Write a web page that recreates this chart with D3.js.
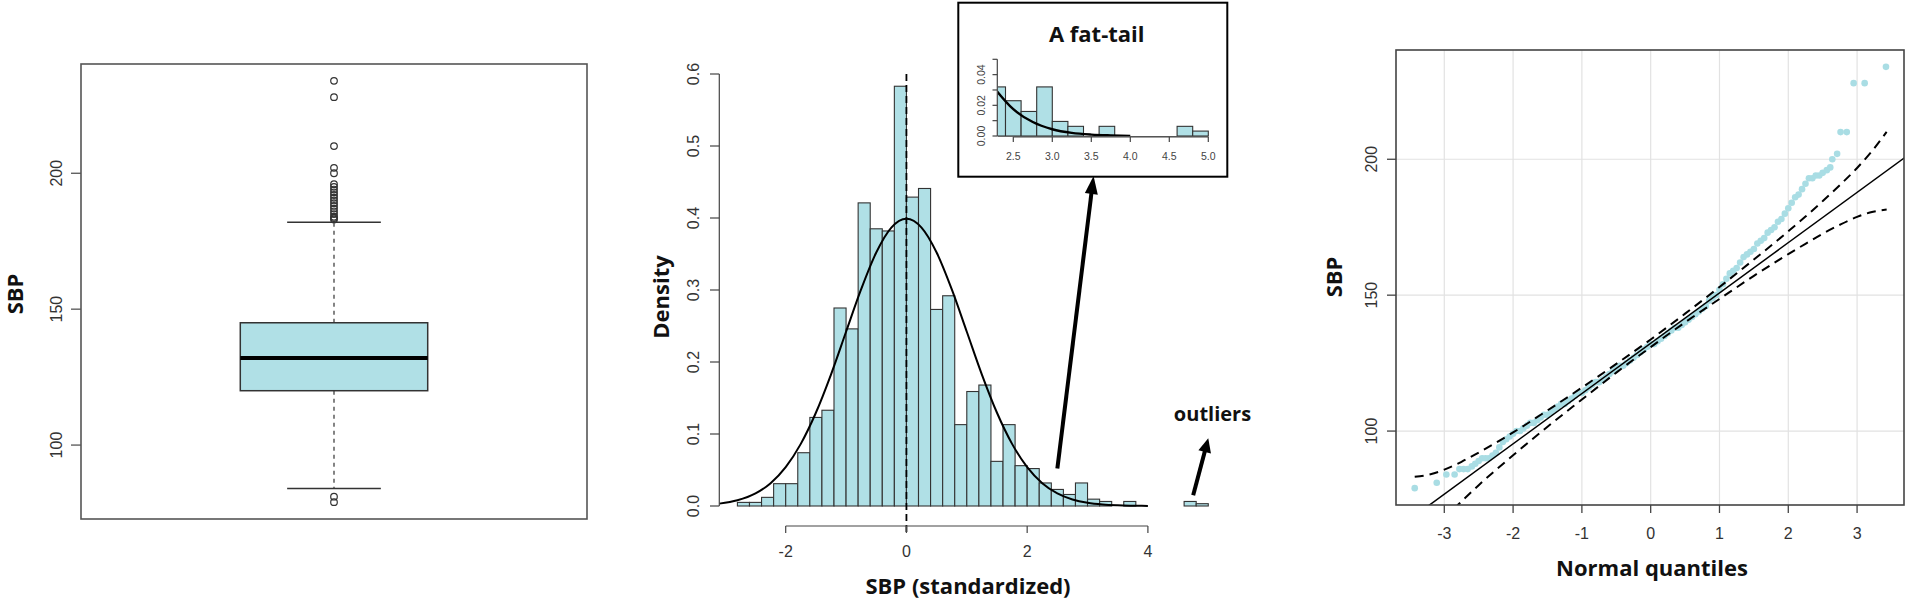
<!DOCTYPE html>
<html><head><meta charset="utf-8">
<script src="https://cdn.jsdelivr.net/npm/d3@7"></script>
<style>body{margin:0;background:#fff}</style>
</head><body>
<svg id="c" width="1907" height="600"></svg>
<script>
// ---------- data ----------
// Panel 1: boxplot of SBP
const boxYTicks = [100, 150, 200];
const boxWhiskerLow = 84, boxQ1 = 120, boxMedian = 132, boxQ3 = 145, boxWhiskerHigh = 182;
const boxOutliers = [79, 81, 183, 183.5, 184, 185, 186, 187, 188, 189, 190, 191, 192, 193, 194, 195, 196, 200, 202, 210, 228, 234];

// Panel 2: histogram of standardized SBP
const histBreaks = [-2.8,-2.6,-2.4,-2.2,-2.0,-1.8,-1.6,-1.4,-1.2,-1.0,-0.8,-0.6,-0.4,-0.2,0,0.2,0.4,0.6,0.8,1.0,1.2,1.4,1.6,1.8,2.0,2.2,2.4,2.6,2.8,3.0,3.2,3.4,3.6,3.8,4.0,4.2,4.4,4.6,4.8,5.0];
const histDensity = [0.005,0.005,0.012,0.031,0.031,0.074,0.123,0.133,0.275,0.246,0.421,0.385,0.382,0.583,0.429,0.441,0.273,0.292,0.113,0.159,0.168,0.062,0.113,0.056,0.052,0.032,0.023,0.016,0.032,0.0095,0.0063,0,0.0063,0,0,0,0,0.0063,0.0032];
const histXTicks = [-2, 0, 2, 4];
const histYTicks = [0, 0.1, 0.2, 0.3, 0.4, 0.5, 0.6];
const curveX = [-3.1,-2.8,-2.5,-2.25,-2,-1.75,-1.5,-1.25,-1,-0.75,-0.5,-0.25,0,0.25,0.5,0.75,1,1.25,1.5,1.75,2,2.25,2.5,2.75,3,3.25,3.5,3.75,4];
const curveY = [0.0033,0.0079,0.0175,0.0317,0.054,0.0863,0.1295,0.1826,0.242,0.3011,0.3521,0.3867,0.3989,0.3867,0.3521,0.3011,0.242,0.1826,0.1295,0.0863,0.054,0.0317,0.0175,0.0091,0.0044,0.002,0.0009,0.0004,0.0001];
const insetXTicks = [2.5, 3.0, 3.5, 4.0, 4.5, 5.0];
const insetYTicks = [0, 0.01, 0.02, 0.03, 0.04, 0.05];
const insetYLabels = [0, 0.02, 0.04];

// Panel 3: normal QQ plot
const qqTheoretical = [-3.43,-3.11,-2.97,-2.85,-2.78,-2.72,-2.66,
 -2.60,-2.55,-2.50,-2.45,-2.40,-2.35,-2.30,-2.25,-2.20,-2.15,-2.10,-2.05,-2.00,-1.95,-1.90,-1.85,-1.80,-1.75,-1.70,-1.65,-1.60,-1.55,-1.50,-1.45,-1.40,-1.35,-1.30,-1.25,-1.20,-1.15,-1.10,-1.05,-1.00,
 -0.95,-0.90,-0.85,-0.80,-0.75,-0.70,-0.65,-0.60,-0.55,-0.50,-0.45,-0.40,-0.35,-0.30,-0.25,-0.20,-0.15,-0.10,-0.05,0.00,
 0.05,0.10,0.15,0.20,0.25,0.30,0.35,0.40,0.45,0.50,0.55,0.60,0.65,0.70,0.75,0.80,0.85,0.90,0.95,1.00,
 1.05,1.10,1.15,1.20,1.25,1.30,1.35,1.40,1.45,1.50,1.55,1.60,1.65,1.70,1.75,1.80,1.85,1.90,1.95,2.00,
 2.05,2.10,2.15,2.20,2.25,2.30,2.35,2.40,2.45,2.50,
 2.56,2.61,2.64,2.71,2.76,2.85,2.95,3.11,3.42];
const qqSample = [79,81,84,84,86,86,86,
 87,88,89,90,90,90,91,92,94,96,97,98,99,100,100,101,102,103,103,104,105,106,106,107,108,109,110,110,111,112,113,114,114,
 115,116,117,118,118,119,120,121,122,123,124,124,125,126,127,128,129,130,131,132,
 132,133,134,135,136,137,138,138,139,140,141,142,143,144,145,146,148,149,150,152,
 154,156,158,159,160,162,164,165,166,167,169,170,171,173,174,175,177,178,180,182,
 184,186,187,189,191,193,193,194,194,195,
 196,197,200,202,210,210,228,228,234];
const qqLineQ = [-3.75, 3.75];
const qqLineV = [62.9, 201.7];
const bandQ = [-3.43,-3.2,-3.0,-2.75,-2.5,-2.25,-2.0,-1.5,-1.0,-0.5,0,0.5,1.0,1.5,2.0,2.25,2.5,2.75,3.0,3.2,3.43];
const bandUpper = [83.2,84.1,85.8,88.7,92.1,95.7,99.5,107.6,116.0,124.7,133.7,143.2,153.0,163.1,173.5,178.9,184.6,190.5,196.8,202.5,210.1];
const bandLower = [54.6,62.1,67.8,74.1,80.1,85.7,91.1,101.6,111.6,121.5,130.9,140.0,148.6,157.1,165.1,168.9,172.6,175.9,178.8,180.5,181.5];
const qqXTicks = [-3, -2, -1, 0, 1, 2, 3];
const qqYTicks = [100, 150, 200];

// ---------- drawing ----------
const svg = d3.select('#c');
svg.append('rect').attr('width', 1907).attr('height', 600).attr('fill', '#fff');
const FILL = '#b0e0e6';
const PT = '#a9dde4';
const tickFont = "'Liberation Sans', Arial, sans-serif";
const boldFont = "'Open Sans', sans-serif";
const defs = svg.append('defs');

function rotText(g, x, y, txt, size, weight, fill, family) {
  return g.append('text').attr('transform', `translate(${x},${y}) rotate(-90)`)
    .attr('text-anchor', 'middle').attr('dominant-baseline', 'central')
    .attr('font-family', family).attr('font-size', size).attr('font-weight', weight)
    .attr('fill', fill).text(txt);
}
function hText(g, x, y, txt, size, weight, fill, family, baseline) {
  return g.append('text').attr('x', x).attr('y', y).attr('text-anchor', 'middle')
    .attr('dominant-baseline', baseline || 'central')
    .attr('font-family', family).attr('font-size', size).attr('font-weight', weight)
    .attr('fill', fill).text(txt);
}
function arrow(g, x1, y1, x2, y2, lw, hl, hw) {
  const dx = x2 - x1, dy = y2 - y1, L = Math.hypot(dx, dy);
  const ux = dx / L, uy = dy / L, px = -uy, py = ux;
  const bx = x2 - ux * hl, by = y2 - uy * hl;
  g.append('line').attr('x1', x1).attr('y1', y1).attr('x2', bx + ux * 2).attr('y2', by + uy * 2)
    .attr('stroke', '#000').attr('stroke-width', lw);
  g.append('path').attr('d', `M${x2},${y2}L${bx + px * hw / 2},${by + py * hw / 2}L${bx - px * hw / 2},${by - py * hw / 2}Z`)
    .attr('fill', '#000');
}

// ===== Panel 1: boxplot =====
{
  const g = svg.append('g');
  const x = d3.scaleLinear().domain([0.46, 1.54]).range([81, 587]);
  const y = d3.scaleLinear().domain([72.8, 240.2]).range([519, 64]);
  const cx = x(1);
  g.append('line').attr('x1', cx).attr('x2', cx).attr('y1', y(boxQ3)).attr('y2', y(boxWhiskerHigh))
    .attr('stroke', '#333').attr('stroke-width', 1.2).attr('stroke-dasharray', '4,4');
  g.append('line').attr('x1', cx).attr('x2', cx).attr('y1', y(boxQ1)).attr('y2', y(boxWhiskerLow))
    .attr('stroke', '#333').attr('stroke-width', 1.2).attr('stroke-dasharray', '4,4');
  [boxWhiskerLow, boxWhiskerHigh].forEach(v => {
    g.append('line').attr('x1', x(0.9)).attr('x2', x(1.1)).attr('y1', y(v)).attr('y2', y(v))
      .attr('stroke', '#333').attr('stroke-width', 1.4);
  });
  g.append('rect').attr('x', x(0.8)).attr('width', x(1.2) - x(0.8))
    .attr('y', y(boxQ3)).attr('height', y(boxQ1) - y(boxQ3))
    .attr('fill', FILL).attr('stroke', '#333').attr('stroke-width', 1.5);
  g.append('line').attr('x1', x(0.8)).attr('x2', x(1.2)).attr('y1', y(boxMedian)).attr('y2', y(boxMedian))
    .attr('stroke', '#000').attr('stroke-width', 4);
  g.selectAll('circle.o').data(boxOutliers).enter().append('circle')
    .attr('cx', cx).attr('cy', d => y(d)).attr('r', 3.3)
    .attr('fill', 'none').attr('stroke', '#333').attr('stroke-width', 1.2);
  g.append('rect').attr('x', 81).attr('y', 64).attr('width', 506).attr('height', 455)
    .attr('fill', 'none').attr('stroke', '#555').attr('stroke-width', 1.6);
  boxYTicks.forEach(t => {
    g.append('line').attr('x1', 71).attr('x2', 81).attr('y1', y(t)).attr('y2', y(t)).attr('stroke', '#555').attr('stroke-width', 1.3);
    rotText(g, 56, y(t), d3.format('d')(t), 16, 'normal', '#333', tickFont);
  });
  rotText(g, 14, 294, 'SBP', 22, 'bold', '#111', boldFont);
}

// ===== Panel 2: histogram =====
{
  const g = svg.append('g');
  const x = d3.scaleLinear().domain([-2, 4]).range([785.7, 1147.9]);
  const y = d3.scaleLinear().domain([0, 0.6]).range([506, 74]);
  const bins = histDensity.map((d, i) => ({ x0: histBreaks[i], x1: histBreaks[i + 1], d }));
  g.selectAll('rect.b').data(bins).enter().append('rect')
    .attr('x', b => x(b.x0)).attr('width', b => x(b.x1) - x(b.x0))
    .attr('y', b => y(b.d)).attr('height', b => y(0) - y(b.d))
    .attr('fill', FILL).attr('stroke', '#333').attr('stroke-width', 1.1);
  const line = d3.line().x((d, i) => x(curveX[i])).y(d => y(d)).curve(d3.curveMonotoneX);
  g.append('path').attr('d', line(curveY)).attr('fill', 'none').attr('stroke', '#000').attr('stroke-width', 2);
  // axes
  const axY = 526;
  g.append('line').attr('x1', x(0)).attr('x2', x(0)).attr('y1', y(0.6)).attr('y2', axY + 6)
    .attr('stroke', '#000').attr('stroke-width', 1.8).attr('stroke-dasharray', '7,4');
  g.append('line').attr('x1', 719.3).attr('x2', 719.3).attr('y1', y(0)).attr('y2', y(0.6)).attr('stroke', '#444').attr('stroke-width', 1.2);
  histYTicks.forEach(t => {
    g.append('line').attr('x1', 710).attr('x2', 719.3).attr('y1', y(t)).attr('y2', y(t)).attr('stroke', '#444').attr('stroke-width', 1.2);
    rotText(g, 693, y(t), d3.format('.1f')(t), 16, 'normal', '#333', tickFont);
  });
  g.append('line').attr('x1', x(histXTicks[0])).attr('x2', x(histXTicks[histXTicks.length - 1]))
    .attr('y1', axY).attr('y2', axY).attr('stroke', '#444').attr('stroke-width', 1.2);
  histXTicks.forEach(t => {
    g.append('line').attr('x1', x(t)).attr('x2', x(t)).attr('y1', axY).attr('y2', axY + 7).attr('stroke', '#444').attr('stroke-width', 1.2);
    hText(g, x(t), 551, t < 0 ? '-' + Math.abs(t) : String(t), 16, 'normal', '#333', tickFont);
  });
  hText(g, 968, 594, 'SBP (standardized)', 22, 'bold', '#111', boldFont, 'auto');
  rotText(g, 660, 297, 'Density', 22, 'bold', '#111', boldFont);

  // annotations
  hText(g, 1212.5, 421, 'outliers', 20, 'bold', '#111', boldFont, 'auto');
  arrow(g, x(4.75), y(0.015), x(5.0), y(0.094), 4, 14, 13);
  arrow(g, x(2.5), y(0.052), x(3.1), 176, 4, 18, 13);

  // inset
  const ig = svg.append('g');
  ig.append('rect').attr('x', 958.3).attr('y', 2.7).attr('width', 269).attr('height', 174)
    .attr('fill', '#fff').attr('stroke', '#000').attr('stroke-width', 2);
  const ix = d3.scaleLinear().domain([2.3, 5.0]).range([997.7, 1208.3]);
  const iy = d3.scaleLinear().domain([0, 0.05]).range([136, 59.3]);
  defs.append('clipPath').attr('id', 'insetClip').append('rect')
    .attr('x', ix(2.3)).attr('y', 40).attr('width', ix(5.0) - ix(2.3) + 4).attr('height', 100);
  const ic = ig.append('g').attr('clip-path', 'url(#insetClip)');
  ic.selectAll('rect.b').data(bins.filter(b => b.x1 > 2.3)).enter().append('rect')
    .attr('x', b => ix(b.x0)).attr('width', b => ix(b.x1) - ix(b.x0))
    .attr('y', b => iy(b.d)).attr('height', b => iy(0) - iy(b.d))
    .attr('fill', FILL).attr('stroke', '#333').attr('stroke-width', 1.1);
  const iline = d3.line().x((d, i) => ix(d[0])).y(d => iy(d[1])).curve(d3.curveMonotoneX);
  const tail = curveX.map((v, i) => [v, curveY[i]]).filter(p => p[0] >= 2.25);
  ic.append('path').attr('d', iline(tail)).attr('fill', 'none').attr('stroke', '#000').attr('stroke-width', 2.4);
  ig.append('line').attr('x1', ix(2.3)).attr('x2', ix(5.0)).attr('y1', 136.5).attr('y2', 136.5).attr('stroke', '#666').attr('stroke-width', 1);
  ig.append('line').attr('x1', ix(insetXTicks[0])).attr('x2', ix(insetXTicks[insetXTicks.length - 1]))
    .attr('y1', 137).attr('y2', 137).attr('stroke', '#444').attr('stroke-width', 1.2);
  insetXTicks.forEach(t => {
    ig.append('line').attr('x1', ix(t)).attr('x2', ix(t)).attr('y1', 137).attr('y2', 142).attr('stroke', '#444').attr('stroke-width', 1.2);
    hText(ig, ix(t), 156, d3.format('.1f')(t), 10.5, 'normal', '#444', tickFont);
  });
  ig.append('line').attr('x1', 997.3).attr('x2', 997.3).attr('y1', iy(0)).attr('y2', iy(0.05)).attr('stroke', '#444').attr('stroke-width', 1.2);
  insetYTicks.forEach(t => {
    ig.append('line').attr('x1', 992.5).attr('x2', 997.3).attr('y1', iy(t)).attr('y2', iy(t)).attr('stroke', '#444').attr('stroke-width', 1.2);
  });
  insetYLabels.forEach(t => rotText(ig, 981, iy(t), d3.format('.2f')(t), 10.5, 'normal', '#444', tickFont));
  hText(ig, 1096.7, 42, 'A fat-tail', 22, 'bold', '#111', boldFont, 'auto');
}

// ===== Panel 3: QQ plot =====
{
  const g = svg.append('g');
  const x = d3.scaleLinear().domain([-3.702, 3.682]).range([1396, 1904]);
  const y = d3.scaleLinear().domain([72.8, 240.2]).range([505, 50]);
  qqXTicks.forEach(t => g.append('line').attr('x1', x(t)).attr('x2', x(t)).attr('y1', 50).attr('y2', 505).attr('stroke', '#e2e2e2').attr('stroke-width', 1.2));
  qqYTicks.forEach(t => g.append('line').attr('x1', 1396).attr('x2', 1904).attr('y1', y(t)).attr('y2', y(t)).attr('stroke', '#e2e2e2').attr('stroke-width', 1.2));
  defs.append('clipPath').attr('id', 'qqClip').append('rect').attr('x', 1396).attr('y', 50).attr('width', 508).attr('height', 455);
  const c = g.append('g').attr('clip-path', 'url(#qqClip)');
  c.selectAll('circle').data(qqSample).enter().append('circle')
    .attr('cx', (d, i) => x(qqTheoretical[i])).attr('cy', d => y(d)).attr('r', 3.3).attr('fill', PT);
  c.append('line').attr('x1', x(qqLineQ[0])).attr('y1', y(qqLineV[0])).attr('x2', x(qqLineQ[1])).attr('y2', y(qqLineV[1]))
    .attr('stroke', '#000').attr('stroke-width', 1.5);
  const bl = d3.line().x((d, i) => x(bandQ[i])).y(d => y(d)).curve(d3.curveMonotoneX);
  [bandUpper, bandLower].forEach(b => c.append('path').attr('d', bl(b)).attr('fill', 'none')
    .attr('stroke', '#000').attr('stroke-width', 2).attr('stroke-dasharray', '9,6'));
  g.append('rect').attr('x', 1396).attr('y', 50).attr('width', 508).attr('height', 455)
    .attr('fill', 'none').attr('stroke', '#444').attr('stroke-width', 1.6);
  qqYTicks.forEach(t => {
    g.append('line').attr('x1', 1387).attr('x2', 1396).attr('y1', y(t)).attr('y2', y(t)).attr('stroke', '#444').attr('stroke-width', 1.3);
    rotText(g, 1371, y(t), String(t), 16, 'normal', '#333', tickFont);
  });
  qqXTicks.forEach(t => {
    g.append('line').attr('x1', x(t)).attr('x2', x(t)).attr('y1', 505).attr('y2', 513).attr('stroke', '#444').attr('stroke-width', 1.3);
    hText(g, x(t), 533, t < 0 ? '-' + Math.abs(t) : String(t), 16, 'normal', '#333', tickFont);
  });
  hText(g, 1652, 576, 'Normal quantiles', 22, 'bold', '#111', boldFont, 'auto');
  rotText(g, 1333, 277, 'SBP', 22, 'bold', '#111', boldFont);
}
</script>
</body></html>
